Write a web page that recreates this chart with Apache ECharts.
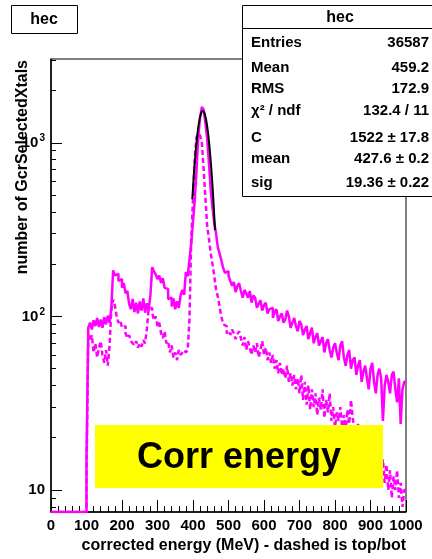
<!DOCTYPE html>
<html>
<head>
<meta charset="utf-8">
<script src="https://cdn.jsdelivr.net/npm/echarts@6/dist/echarts.min.js"></script>
<style>
  html, body { margin: 0; padding: 0; background: #fff; }
  #chart { width: 432px; height: 559px; }
</style>
</head>
<body>
<div id="chart"></div>
<script>
// histogram bins: 5 MeV wide, 0..1000 MeV
var binWidth = 5;

// solid = all crystals
var solidCounts = [
  0, 0, 0, 0, 0, 0, 0, 0, 0, 0,
  0, 0, 0, 0, 0, 0, 0, 0, 0, 0,
  15, 86, 92, 84, 95, 88, 98, 87, 96, 86,
  99, 90, 101, 92, 112, 184, 172, 176, 160, 164,
  146, 156, 136, 140, 118, 110, 126, 106, 120, 104,
  122, 108, 127, 105, 119, 108, 132, 192, 182, 174,
  164, 172, 156, 166, 146, 144, 126, 128, 114, 127,
  110, 122, 112, 132, 142, 133, 180, 170, 212, 262,
  350, 470, 700, 1100, 1400, 1610, 1550, 1300, 1050, 760,
  530, 420, 345, 300, 250, 230, 210, 190, 178, 182,
  172, 160, 150, 158, 138, 150, 155, 140, 128, 142,
  136, 128, 140, 120, 132, 128, 112, 118, 124, 108,
  116, 120, 104, 110, 112, 98, 106, 110, 94, 100,
  104, 92, 96, 108, 100, 86, 92, 98, 88, 82,
  94, 90, 78, 84, 88, 74, 80, 86, 70, 76,
  80, 68, 72, 76, 62, 70, 74, 64, 58, 66,
  70, 62, 56, 68, 72, 58, 52, 60, 64, 50,
  56, 58, 46, 52, 56, 42, 48, 52, 44, 38,
  50, 54, 42, 36, 46, 50, 44, 25, 40, 46,
  42, 36, 46, 48, 38, 32, 44, 24, 38, 42
];

// dashed = top/bottom crystals
var dashedCounts = [
  0, 0, 0, 0, 0, 0, 0, 0, 0, 0,
  0, 0, 0, 0, 0, 0, 0, 0, 0, 0,
  12, 80, 72, 78, 62, 70, 58, 66, 72, 60,
  54, 64, 52, 68, 110, 125, 115, 100, 92, 95,
  86, 88, 80, 75, 78, 72, 70, 68, 72, 66,
  70, 67, 73, 70, 85, 110, 112, 105, 95, 100,
  88, 92, 80, 75, 82, 70, 72, 62, 68, 58,
  62, 56, 64, 60, 62, 64, 62, 64, 95, 280,
  470, 820, 1080, 1130, 1100, 1000, 700, 480, 330, 280,
  230, 200, 170, 142, 130, 113, 100, 90, 88, 80,
  82, 78, 84, 80, 74, 79, 82, 75, 68, 76,
  64, 72, 66, 60, 68, 62, 70, 58, 64, 72,
  60, 66, 56, 62, 54, 60, 50, 56, 47, 54,
  46, 50, 44, 52, 42, 47, 40, 46, 38, 44,
  36, 46, 33, 42, 31, 40, 29, 38, 30, 36,
  27, 34, 29, 38, 26, 33, 28, 36, 25, 30,
  23, 28, 25, 30, 23, 27, 22, 29, 24, 33,
  26, 22, 20, 24, 19, 22, 18, 20, 17, 19,
  16, 18, 15, 17, 14, 16, 13, 15, 11, 14,
  10, 13, 9, 12, 10, 13, 9, 11, 8, 10
];

// gaussian fit (C=1522, mean=427.6, sig=19.36), values at these energies
var fitEnergy = [398, 402, 406, 410, 414, 418, 422, 426, 430, 434, 438, 442, 446, 450, 454, 458, 462];
var fitValues = [473, 635, 817, 1007, 1189, 1346, 1460, 1517, 1510, 1441, 1317, 1154, 969, 779, 601, 444, 314];

var yMajorTicks = [10, 100, 1000];
var yMinorTicks = [8, 9, 20, 30, 40, 50, 60, 70, 80, 90, 200, 300, 400, 500, 600, 700, 800, 900, 2000, 3000];

var statLabels = ['Entries', 'Mean', 'RMS', 'χ² / ndf', 'C', 'mean', 'sig'];
var statValues = ['36587', '459.2', '172.9', '132.4 / 11', '1522 ± 17.8', '427.6 ± 0.2', '19.36 ± 0.22'];

var yMin = 7.47, yMax = 3037;
var font = '"Liberation Sans", Arial, Helvetica, sans-serif';

function toSteps(counts) {
  var pts = counts.map(function (v, i) {
    return [i * binWidth, Math.max(v, yMin)];
  });
  pts.push([counts.length * binWidth, Math.max(counts[counts.length - 1], yMin)]);
  return pts;
}

var chart = echarts.init(document.getElementById('chart'));

var statY = [43, 68, 89, 111, 137.5, 159, 183];
var statTexts = [];
statLabels.forEach(function (lab, i) {
  statTexts.push({
    type: 'text', z: 101, x: 251, y: statY[i],
    style: { text: lab, font: 'bold 15px ' + font, fill: '#000',
      align: 'left', verticalAlign: 'middle', textAlign: 'left', textVerticalAlign: 'middle' }
  });
  statTexts.push({
    type: 'text', z: 101, x: 429, y: statY[i],
    style: { text: statValues[i], font: 'bold 15px ' + font, fill: '#000',
      align: 'right', verticalAlign: 'middle', textAlign: 'right', textVerticalAlign: 'middle' }
  });
});

var option = {
  animation: false,
  backgroundColor: '#fff',
  textStyle: { fontFamily: font },
  grid: {
    left: 51, top: 59, width: 355, height: 453,
    show: true, borderColor: '#000', borderWidth: 1
  },
  xAxis: {
    type: 'value', min: 0, max: 1000, interval: 100,
    axisLine: { show: true, lineStyle: { color: '#000', width: 1.5 } },
    axisTick: { inside: true, length: 12, lineStyle: { color: '#000' } },
    minorTick: { show: true, splitNumber: 5, length: 6, lineStyle: { color: '#000' } },
    splitLine: { show: false },
    axisLabel: {
      color: '#000', fontWeight: 'bold', fontSize: 15, fontFamily: font, margin: 6,
      formatter: function (v) { return String(v); }
    }
  },
  yAxis: [
    {
      type: 'log', logBase: 10, min: yMin, max: yMax,
      axisLine: { show: true, lineStyle: { color: '#000', width: 1.5 } },
      axisTick: { inside: true, length: 11, customValues: yMajorTicks, lineStyle: { color: '#000' } },
      splitLine: { show: false },
      axisLabel: {
        customValues: yMajorTicks,
        margin: 6,
        color: '#000', fontWeight: 'bold', fontSize: 15, fontFamily: font,
        formatter: function (v) {
          var e = Math.round(Math.log10(v));
          return e === 1 ? '10' : '10{sup|' + e + '}';
        },
        rich: {
          sup: { fontSize: 10, fontWeight: 'bold', color: '#000', fontFamily: font, padding: [0, 0, 9, 1] }
        }
      }
    },
    {
      type: 'log', logBase: 10, min: yMin, max: yMax, position: 'left',
      axisLine: { show: false },
      axisTick: { inside: true, length: 5, customValues: yMinorTicks, lineStyle: { color: '#000' } },
      axisLabel: { show: false },
      splitLine: { show: false }
    }
  ],
  series: [
    {
      type: 'line', step: 'end', symbol: 'none',
      data: toSteps(solidCounts),
      lineStyle: { color: '#ff00ff', width: 2.5 }
    },
    {
      type: 'line', step: 'end', symbol: 'none',
      data: toSteps(dashedCounts),
      lineStyle: { color: '#ff00ff', width: 2.5, type: [5, 3] }
    },
    {
      type: 'line', smooth: true, symbol: 'none', z: 5,
      data: fitEnergy.map(function (e, i) { return [e, fitValues[i]]; }),
      lineStyle: { color: '#000', width: 2 }
    }
  ],
  graphic: [
    // axis titles
    {
      type: 'text', z: 100, x: 23, y: 60, rotation: Math.PI / 2,
      style: { text: 'number of GcrSelectedXtals', font: 'bold 16px ' + font, fill: '#000',
        align: 'right', verticalAlign: 'middle', textAlign: 'right', textVerticalAlign: 'middle' }
    },
    {
      type: 'text', z: 100, x: 406, y: 546,
      style: { text: 'corrected energy (MeV) - dashed is top/bot', font: 'bold 16px ' + font, fill: '#000',
        align: 'right', verticalAlign: 'middle', textAlign: 'right', textVerticalAlign: 'middle' }
    },
    // title box
    {
      type: 'rect', z: 100, shape: { x: 11.5, y: 5.5, width: 66, height: 28 },
      style: { fill: '#fff', stroke: '#000', lineWidth: 1 }
    },
    {
      type: 'text', z: 101, x: 44, y: 20,
      style: { text: 'hec', font: 'bold 16px ' + font, fill: '#000',
        align: 'center', verticalAlign: 'middle', textAlign: 'center', textVerticalAlign: 'middle' }
    },
    // stats box
    {
      type: 'rect', z: 100, shape: { x: 242.5, y: 5.5, width: 200, height: 191 },
      style: { fill: '#fff', stroke: '#000', lineWidth: 1 }
    },
    {
      type: 'line', z: 101, shape: { x1: 242, y1: 28.5, x2: 432, y2: 28.5 },
      style: { stroke: '#000', lineWidth: 1 }
    },
    {
      type: 'text', z: 101, x: 340, y: 18,
      style: { text: 'hec', font: 'bold 16px ' + font, fill: '#000',
        align: 'center', verticalAlign: 'middle', textAlign: 'center', textVerticalAlign: 'middle' }
    }
  ].concat(statTexts).concat([
    // yellow label box
    {
      type: 'rect', z: 100, shape: { x: 95, y: 425, width: 288, height: 63 },
      style: { fill: '#ffff00' }
    },
    {
      type: 'text', z: 101, x: 239, y: 458,
      style: { text: 'Corr energy', font: 'bold 36px ' + font, fill: '#000',
        align: 'center', verticalAlign: 'middle', textAlign: 'center', textVerticalAlign: 'middle' }
    }
  ])
};

chart.setOption(option);
</script>
</body>
</html>
